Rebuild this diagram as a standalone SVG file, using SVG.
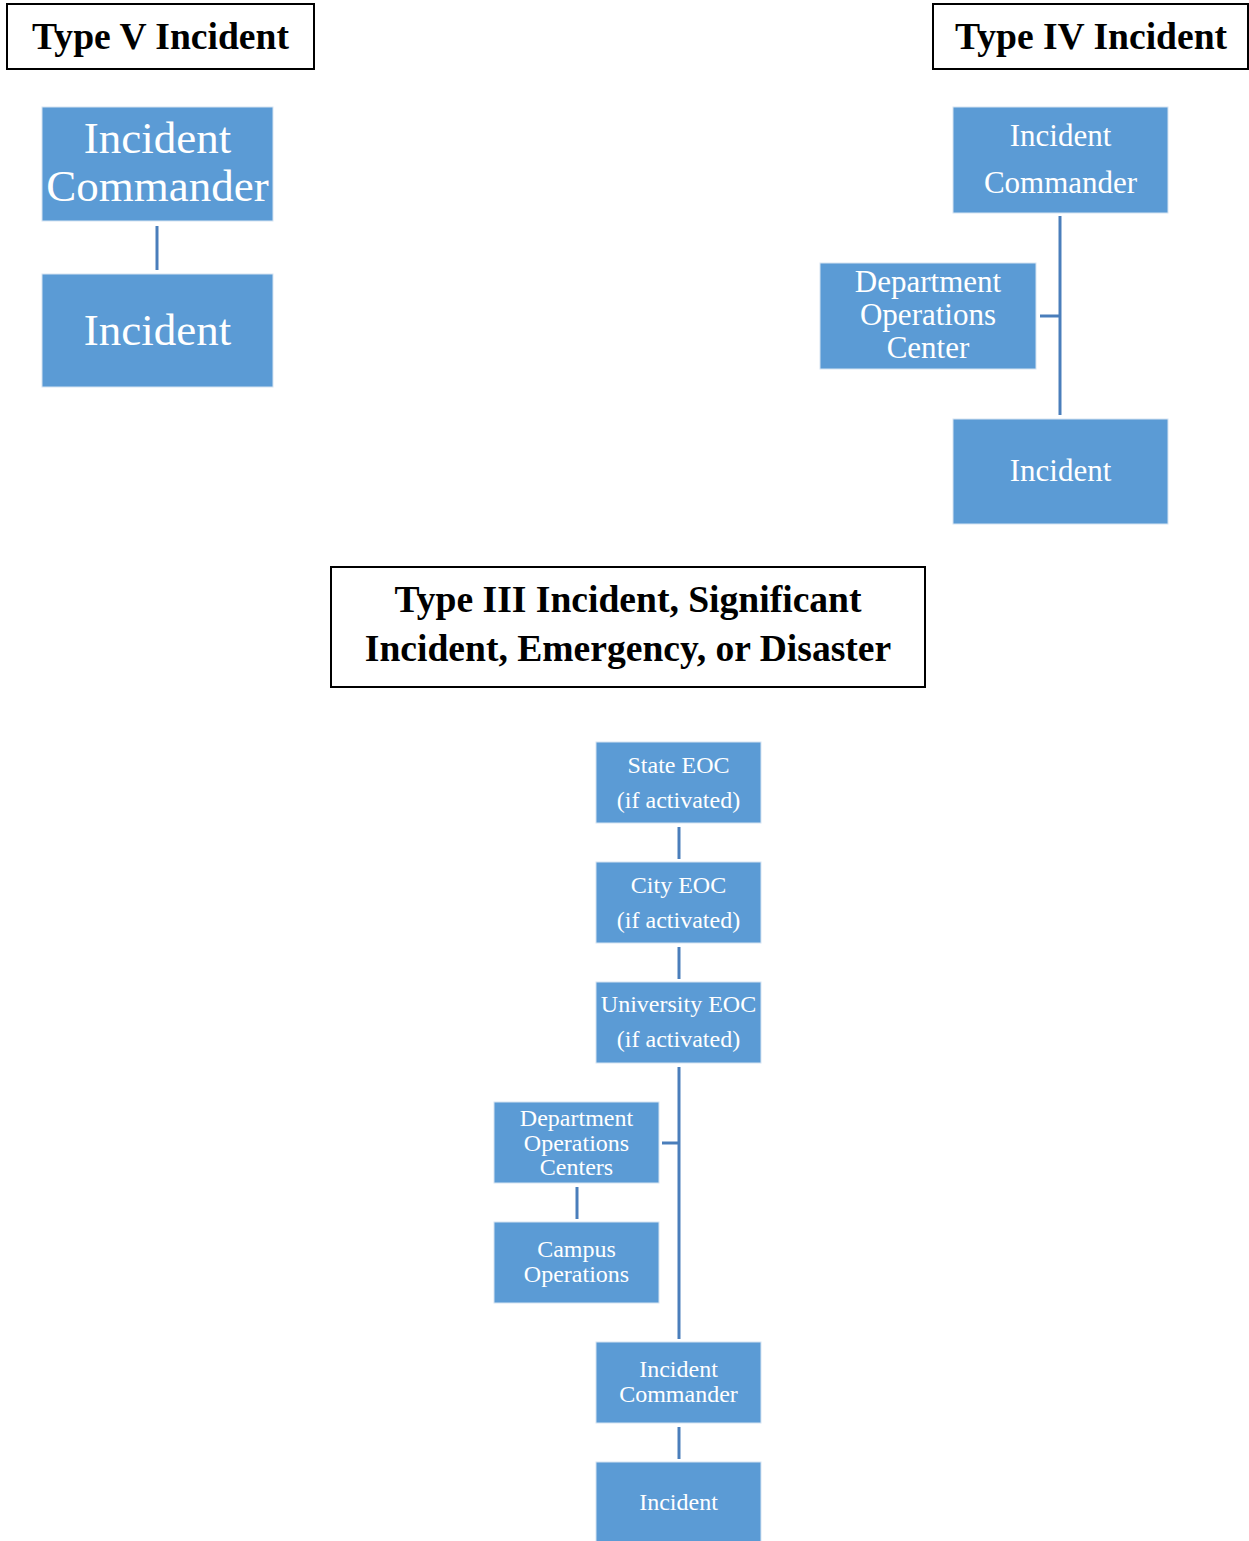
<svg xmlns="http://www.w3.org/2000/svg" width="1249" height="1541" viewBox="0 0 1249 1541">
<style>
.title{fill:#fff;stroke:#000;stroke-width:2}
.tt{font-family:"Liberation Serif","Times New Roman",serif;font-weight:bold;font-size:37.6px;fill:#000;text-anchor:middle}
.box{fill:#5b9bd5;stroke:#d6e4f2;stroke-width:1}
.bt{font-family:"Liberation Serif","Times New Roman",serif;fill:#fff;text-anchor:middle}
.conn line{stroke:#4a7ebb;stroke-width:3;fill:none}
</style>
<rect width="1249" height="1541" fill="#fff"/>
<g id="title-v"><rect class="title" x="7" y="4" width="307" height="65"/><text class="tt" x="160.5" y="49">Type V Incident</text></g>
<g id="title-iv"><rect class="title" x="933" y="4" width="315" height="65"/><text class="tt" x="1091" y="49">Type IV Incident</text></g>
<g id="title-iii"><rect class="title" x="331" y="567" width="594" height="120"/><text class="tt" x="628" y="612">Type III Incident, Significant</text><text class="tt" x="628" y="661">Incident, Emergency, or Disaster</text></g>

<g class="conn" id="connectors">
<line x1="157" y1="226" x2="157" y2="270"/>
<line x1="1060" y1="216" x2="1060" y2="415"/>
<line x1="1040" y1="316" x2="1060" y2="316"/>
<line x1="679" y1="827" x2="679" y2="859"/>
<line x1="679" y1="947" x2="679" y2="979"/>
<line x1="679" y1="1067" x2="679" y2="1339"/>
<line x1="662" y1="1143" x2="679" y2="1143"/>
<line x1="577" y1="1187" x2="577" y2="1219"/>
<line x1="679" y1="1427" x2="679" y2="1459"/>
</g>

<g id="v-ic"><rect class="box" x="42" y="107" width="231" height="114"/><text class="bt" font-size="45" x="157.5" y="153">Incident</text><text class="bt" font-size="45" x="157.5" y="201">Commander</text></g>
<g id="v-inc"><rect class="box" x="42" y="274" width="231" height="113"/><text class="bt" font-size="45" x="157.5" y="345">Incident</text></g>

<g id="iv-ic"><rect class="box" x="953" y="107" width="215" height="106"/><text class="bt" font-size="31" x="1060.5" y="146">Incident</text><text class="bt" font-size="31" x="1060.5" y="193">Commander</text></g>
<g id="iv-doc"><rect class="box" x="820" y="263" width="216" height="106"/><text class="bt" font-size="31" x="928" y="292">Department</text><text class="bt" font-size="31" x="928" y="325">Operations</text><text class="bt" font-size="31" x="928" y="358">Center</text></g>
<g id="iv-inc"><rect class="box" x="953" y="419" width="215" height="105"/><text class="bt" font-size="31" x="1060.5" y="481">Incident</text></g>

<g id="iii-state"><rect class="box" x="596" y="742" width="165" height="81"/><text class="bt" font-size="24" x="678.5" y="773">State EOC</text><text class="bt" font-size="24" x="678.5" y="808">(if activated)</text></g>
<g id="iii-city"><rect class="box" x="596" y="862" width="165" height="81"/><text class="bt" font-size="24" x="678.5" y="893">City EOC</text><text class="bt" font-size="24" x="678.5" y="928">(if activated)</text></g>
<g id="iii-univ"><rect class="box" x="596" y="982" width="165" height="81"/><text class="bt" font-size="24" x="678.5" y="1012">University EOC</text><text class="bt" font-size="24" x="678.5" y="1047">(if activated)</text></g>
<g id="iii-doc"><rect class="box" x="494" y="1102" width="165" height="81"/><text class="bt" font-size="24" x="576.5" y="1126">Department</text><text class="bt" font-size="24" x="576.5" y="1151">Operations</text><text class="bt" font-size="24" x="576.5" y="1175">Centers</text></g>
<g id="iii-campus"><rect class="box" x="494" y="1222" width="165" height="81"/><text class="bt" font-size="24" x="576.5" y="1257">Campus</text><text class="bt" font-size="24" x="576.5" y="1282">Operations</text></g>
<g id="iii-ic"><rect class="box" x="596" y="1342" width="165" height="81"/><text class="bt" font-size="24" x="678.5" y="1377">Incident</text><text class="bt" font-size="24" x="678.5" y="1402">Commander</text></g>
<g id="iii-inc"><rect class="box" x="596" y="1462" width="165" height="80"/><text class="bt" font-size="24" x="678.5" y="1510">Incident</text></g>
</svg>
